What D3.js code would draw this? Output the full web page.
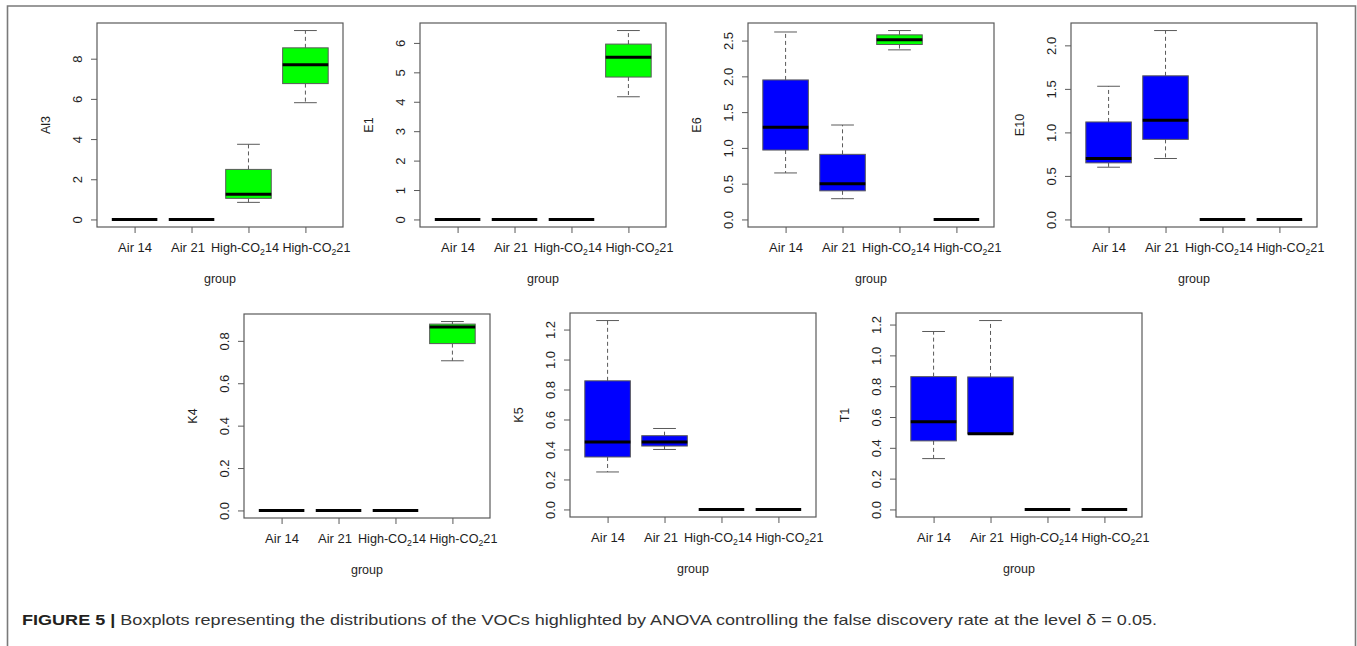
<!DOCTYPE html>
<meta charset="utf-8">
<style>
body { margin: 0; background: #fff; }
svg { font-family: "Liberation Sans", Arial, Helvetica, sans-serif; }
</style>
<svg width="1357" height="646"></svg>
<script src="https://cdn.jsdelivr.net/npm/d3@7"></script>
<script>
// groups on the x axis and their box colours
var groups = ["Air 14", "Air 21", "High-CO2 14", "High-CO2 21"];
var fills = ["#0000ff", "#0000ff", "#00ff00", "#00ff00"];

// one five-number summary per group: [low whisker, Q1, median, Q3, high whisker]
var al3 = [[0, 0, 0, 0, 0], [0, 0, 0, 0, 0], [0.85, 1.05, 1.25, 2.49, 3.74], [5.81, 6.76, 7.7, 8.54, 9.4]];
var e1  = [[0, 0, 0, 0, 0], [0, 0, 0, 0, 0], [0, 0, 0, 0, 0], [4.17, 4.84, 5.51, 5.96, 6.42]];
var e6  = [[0.65, 0.97, 1.29, 1.95, 2.62], [0.29, 0.4, 0.5, 0.91, 1.32], [2.37, 2.445, 2.51, 2.58, 2.64], [0, 0, 0, 0, 0]];
var e10 = [[0.6, 0.65, 0.7, 1.12, 1.53], [0.7, 0.92, 1.14, 1.65, 2.17], [0, 0, 0, 0, 0], [0, 0, 0, 0, 0]];
var k4  = [[0, 0, 0, 0, 0], [0, 0, 0, 0, 0], [0, 0, 0, 0, 0], [0.706, 0.787, 0.865, 0.879, 0.891]];
var k5  = [[0.25, 0.35, 0.45, 0.858, 1.26], [0.4, 0.423, 0.45, 0.492, 0.54], [0, 0, 0, 0, 0], [0, 0, 0, 0, 0]];
var t1  = [[0.33, 0.445, 0.569, 0.862, 1.155], [0.49, 0.49, 0.491, 0.86, 1.226], [0, 0, 0, 0, 0], [0, 0, 0, 0, 0]];

// y tick values per panel
var al3Ticks = [0, 2, 4, 6, 8];
var e1Ticks  = [0, 1, 2, 3, 4, 5, 6];
var e6Ticks  = [0, 0.5, 1, 1.5, 2, 2.5];
var e10Ticks = [0, 0.5, 1, 1.5, 2];
var k4Ticks  = [0, 0.2, 0.4, 0.6, 0.8];
var k5Ticks  = [0, 0.2, 0.4, 0.6, 0.8, 1, 1.2];
var t1Ticks  = [0, 0.2, 0.4, 0.6, 0.8, 1, 1.2];

var intFmt = d3.format("d"), decFmt = d3.format(".1f");

// panel placement on the page
var panels = [
  {name: "Al3", data: al3, ticks: al3Ticks, fmt: intFmt, x: 97,  y: 23},
  {name: "E1",  data: e1,  ticks: e1Ticks,  fmt: intFmt, x: 420, y: 23},
  {name: "E6",  data: e6,  ticks: e6Ticks,  fmt: decFmt, x: 748, y: 23},
  {name: "E10", data: e10, ticks: e10Ticks, fmt: decFmt, x: 1071, y: 23},
  {name: "K4",  data: k4,  ticks: k4Ticks,  fmt: decFmt, x: 244, y: 314},
  {name: "K5",  data: k5,  ticks: k5Ticks,  fmt: decFmt, x: 570, y: 313},
  {name: "T1",  data: t1,  ticks: t1Ticks,  fmt: decFmt, x: 896, y: 313}
];

// the long labels are nudged apart in the original
var labelShift = [0, -4, -4, 10.5];

var svg = d3.select("svg");
var W = 246, H = 204;
var lineCol = "#5a5a5a", textCol = "#1e1e1e";

// page frame
svg.append("path")
    .attr("d", "M7.5,646V6H1355.5V646")
    .attr("fill", "none")
    .attr("stroke", "#7a7a7a")
    .attr("stroke-width", 1.6);

panels.forEach(function(p) {
  var g = svg.append("g").attr("transform", "translate(" + p.x + "," + p.y + ")");

  // R style range: data range padded by 4% on each side
  var lo = d3.min(p.data, function(d) { return d[0]; }),
      hi = d3.max(p.data, function(d) { return d[4]; }),
      pad = 0.04 * (hi - lo);
  var y = d3.scaleLinear().domain([lo - pad, hi + pad]).range([H, 0]);
  var x = d3.scaleLinear().domain([0.34, 4.66]).range([0, W]);
  var half = (x(0.8) - x(0)) / 2;

  var box = g.selectAll("g.box")
    .data(p.data)
    .enter().append("g")
      .attr("class", "box")
      .attr("transform", function(d, i) { return "translate(" + x(i + 1) + ",0)"; });

  // whiskers
  box.append("line")
      .attr("y1", function(d) { return y(d[3]); })
      .attr("y2", function(d) { return y(d[4]); })
      .attr("stroke", lineCol).attr("stroke-dasharray", "4,3");
  box.append("line")
      .attr("y1", function(d) { return y(d[1]); })
      .attr("y2", function(d) { return y(d[0]); })
      .attr("stroke", lineCol).attr("stroke-dasharray", "4,3");
  // staples
  [0, 4].forEach(function(k) {
    box.append("line")
        .attr("x1", -half / 2).attr("x2", half / 2)
        .attr("y1", function(d) { return y(d[k]); })
        .attr("y2", function(d) { return y(d[k]); })
        .attr("stroke", lineCol);
  });
  // box
  box.append("rect")
      .attr("x", -half)
      .attr("width", 2 * half)
      .attr("y", function(d) { return y(d[3]); })
      .attr("height", function(d) { return y(d[1]) - y(d[3]); })
      .attr("fill", function(d, i) { return fills[i]; })
      .attr("stroke", lineCol);
  // median
  box.append("line")
      .attr("x1", -half).attr("x2", half)
      .attr("y1", function(d) { return y(d[2]); })
      .attr("y2", function(d) { return y(d[2]); })
      .attr("stroke", "#000").attr("stroke-width", 3);

  // y axis
  var ya = g.append("g")
      .call(d3.axisLeft(y).tickValues(p.ticks).tickFormat(p.fmt).tickSize(6).tickSizeOuter(0));
  ya.select(".domain").remove();
  ya.selectAll("line").attr("stroke", lineCol);
  ya.selectAll("text")
      .attr("x", 0).attr("dy", null)
      .attr("text-anchor", "middle")
      .attr("transform", "translate(-15.5,0) rotate(-90)")
      .attr("fill", textCol)
      .style("font-size", "13px");

  // x axis
  var xa = g.append("g")
      .attr("transform", "translate(0," + H + ")")
      .call(d3.axisBottom(x).tickValues([1, 2, 3, 4]).tickSize(6).tickSizeOuter(0).tickFormat(""));
  xa.select(".domain").remove();
  xa.selectAll("line").attr("stroke", lineCol);
  xa.selectAll(".tick").each(function(v) {
    var label = groups[v - 1];
    var t = d3.select(this).append("text")
        .attr("x", labelShift[v - 1])
        .attr("y", 24.5)
        .attr("text-anchor", "middle")
        .attr("fill", textCol)
        .style("font-size", "13px");
    var m = label.match(/^(.*CO)2 (.*)$/);
    if (m) {
      t.attr("textLength", 68).attr("lengthAdjust", "spacingAndGlyphs");
      t.append("tspan").text(m[1]);
      t.append("tspan").attr("dy", 3).style("font-size", "9px").text("2");
      t.append("tspan").attr("dy", -3).text(m[2]);
    } else {
      t.text(label);
    }
  });

  // frame
  g.append("rect")
      .attr("width", W).attr("height", H)
      .attr("fill", "none")
      .attr("stroke", lineCol)
      .attr("stroke-width", 1.2);

  // axis titles
  g.append("text")
      .attr("x", W / 2).attr("y", H + 56)
      .attr("text-anchor", "middle")
      .attr("fill", textCol)
      .style("font-size", "12.5px")
      .text("group");
  g.append("text")
      .attr("transform", "translate(-47," + (H / 2) + ") rotate(-90)")
      .attr("text-anchor", "middle")
      .attr("fill", textCol)
      .style("font-size", "12.5px")
      .text(p.name);
});

// caption
var cap = svg.append("text")
    .attr("x", 22).attr("y", 624.5)
    .attr("fill", "#231f20")
    .attr("textLength", 1135)
    .attr("lengthAdjust", "spacingAndGlyphs")
    .style("font-size", "15px");
cap.append("tspan").style("font-weight", "bold").text("FIGURE 5 | ");
cap.append("tspan").attr("fill", "#333").text("Boxplots representing the distributions of the VOCs highlighted by ANOVA controlling the false discovery rate at the level \u03b4 = 0.05.");
</script>
